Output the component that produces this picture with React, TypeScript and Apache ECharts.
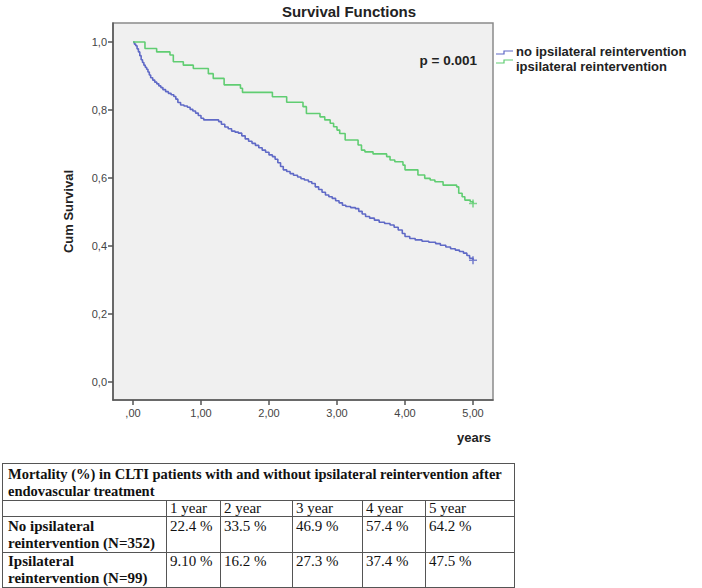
import React, { useEffect, useRef } from "react";
import * as echarts from "echarts";

// Kaplan–Meier step estimates (years, cumulative survival)
const noReintTimes = [
  0, 0.02, 0.04, 0.06, 0.08, 0.1, 0.12, 0.14, 0.16, 0.18, 0.2, 0.22, 0.24, 0.26, 0.29, 0.32, 0.35, 0.38,
  0.41, 0.44, 0.48, 0.52, 0.56, 0.6, 0.63, 0.66, 0.7, 0.75, 0.8, 0.84, 0.88, 0.92, 0.96, 1.0, 1.04, 1.26,
  1.3, 1.35, 1.4, 1.45, 1.5, 1.55, 1.6, 1.65, 1.7, 1.75, 1.8, 1.85, 1.9, 1.95, 2.0, 2.05, 2.09, 2.13,
  2.17, 2.21, 2.26, 2.31, 2.36, 2.42, 2.47, 2.52, 2.58, 2.63, 2.68, 2.73, 2.78, 2.83, 2.88, 2.93, 2.98,
  3.03, 3.08, 3.13, 3.2, 3.27, 3.32, 3.37, 3.42, 3.48, 3.55, 3.62, 3.7, 3.78, 3.84, 3.9, 3.96, 4.0, 4.07,
  4.15, 4.25, 4.35, 4.45, 4.52, 4.6, 4.67, 4.74, 4.8, 4.86, 4.91, 4.95, 5.0,
];
const noReintSurv = [
  1.0, 0.994, 0.989, 0.98, 0.971, 0.96, 0.948, 0.94, 0.932, 0.926, 0.92, 0.912, 0.903, 0.895, 0.888, 0.882,
  0.877, 0.871, 0.866, 0.86, 0.854, 0.849, 0.845, 0.84, 0.832, 0.822, 0.815, 0.812, 0.808, 0.802, 0.797,
  0.791, 0.784, 0.776, 0.771, 0.766, 0.758, 0.75, 0.745, 0.738, 0.735, 0.732, 0.724, 0.715, 0.708, 0.702,
  0.696, 0.689, 0.682, 0.676, 0.668, 0.663, 0.655, 0.645, 0.634, 0.624, 0.619, 0.613, 0.608, 0.603, 0.598,
  0.594, 0.589, 0.584, 0.574, 0.566, 0.558, 0.55, 0.545, 0.54, 0.533, 0.527, 0.52, 0.516, 0.513, 0.51,
  0.502, 0.494, 0.487, 0.482, 0.476, 0.47, 0.466, 0.462, 0.455, 0.447, 0.437, 0.428, 0.422, 0.418, 0.414,
  0.411, 0.407, 0.402, 0.397, 0.392, 0.388, 0.384, 0.379, 0.372, 0.364, 0.358,
];

const reintTimes = [
  0, 0.176, 0.348, 0.544, 0.593, 0.74, 0.887, 1.108, 1.18, 1.34, 1.58, 1.61, 2.05, 2.26, 2.5, 2.55, 2.75,
  2.82, 2.9, 2.95, 3.0, 3.04, 3.12, 3.31, 3.36, 3.41, 3.53, 3.73, 3.78, 3.85, 3.97, 4.0, 4.19, 4.29, 4.37,
  4.44, 4.56, 4.76, 4.79, 4.84, 4.88, 4.96, 5.0,
];
const reintSurv = [
  1.0, 0.981, 0.971, 0.962, 0.942, 0.932, 0.922, 0.907, 0.893, 0.874, 0.864, 0.852, 0.839, 0.823, 0.81,
  0.79, 0.78, 0.771, 0.761, 0.751, 0.741, 0.731, 0.712, 0.697, 0.682, 0.677, 0.671, 0.663, 0.653, 0.648,
  0.638, 0.624, 0.609, 0.599, 0.594, 0.589, 0.579, 0.574, 0.555, 0.545, 0.535, 0.53, 0.525,
];

const yearTicks = [0, 1, 2, 3, 4, 5];
const survivalTicks = [0, 0.2, 0.4, 0.6, 0.8, 1.0];

const seriesNames = ["no ipsilateral reintervention", "ipsilateral reintervention"];
const seriesColors = ["#5f69c6", "#60cd72"];

// Mortality table
const tableTitle = [
  "Mortality (%) in CLTI patients with and without ipsilateral reintervention after",
  "endovascular treatment",
];
const yearHeaders = ["1 year", "2 year", "3 year", "4 year", "5 year"];
const rowLabels = [
  ["No ipsilateral", "reintervention (N=352)"],
  ["Ipsilateral", "reintervention (N=99)"],
];
const noReintMortality = ["22.4 %", "33.5 %", "46.9 %", "57.4 %", "64.2 %"];
const reintMortality = ["9.10 %", "16.2 %", "27.3 %", "37.4 %", "47.5 %"];

const SANS = "'Liberation Sans', Arial, sans-serif";
const SERIF = "'Liberation Serif', 'Times New Roman', serif";

const censorPlus = "path://M4 0H6V4H10V6H6V10H4V6H0V4H4Z";

function pairs(t: number[], s: number[]) {
  return t.map((v, i) => [v, s[i]]);
}

function Chart() {
  const ref = useRef<HTMLDivElement>(null);
  useEffect(() => {
    if (!ref.current) return;
    const chart = echarts.init(ref.current, undefined, { renderer: "svg" });
    const curves = [pairs(noReintTimes, noReintSurv), pairs(reintTimes, reintSurv)];
    const lineSeries = curves.map((d, i) => ({
      type: "line",
      name: seriesNames[i],
      data: d,
      step: "end",
      showSymbol: false,
      lineStyle: { color: seriesColors[i], width: 1.6 },
      itemStyle: { color: seriesColors[i] },
      z: 3,
    }));
    const censorSeries = curves.map((d, i) => ({
      type: "scatter",
      data: [d[d.length - 1]],
      symbol: censorPlus,
      symbolSize: 8,
      itemStyle: { color: seriesColors[i] },
      z: 4,
    }));

    const legendGraphics: any[] = [];
    seriesNames.forEach((name, i) => {
      const yText = 51 + i * 15;
      const yLow = 54 + i * 9;
      legendGraphics.push({
        type: "polyline",
        shape: {
          points: [
            [496, yLow],
            [504, yLow],
            [504, yLow - 3],
            [513, yLow - 3],
          ],
        },
        style: { stroke: seriesColors[i], lineWidth: 1.2, fill: null },
      });
      legendGraphics.push({
        type: "text",
        x: 516,
        y: yText,
        style: {
          text: name,
          font: `bold 13px ${SANS}`,
          lineHeight: 14,
          fill: "#222",
          textVerticalAlign: "middle",
        },
      });
    });

    chart.setOption({
      animation: false,
      backgroundColor: "#ffffff",
      grid: {
        left: 113,
        top: 23,
        width: 380,
        height: 377,
        show: true,
        backgroundColor: "#f0f0f0",
        borderColor: "#8a8a8a",
        borderWidth: 1.5,
      },
      xAxis: {
        type: "value",
        min: -0.294,
        max: 5.294,
        axisLine: { show: true, onZero: false, lineStyle: { color: "#555", width: 1.5 } },
        axisTick: { show: true, customValues: yearTicks, length: 5, lineStyle: { color: "#555", width: 1.5 } },
        axisLabel: {
          customValues: yearTicks,
          margin: 7,
          fontFamily: SANS,
          fontSize: 11,
          color: "#444",
          formatter: (v: number) => (v === 0 ? ",00" : v.toFixed(2).replace(".", ",")),
        },
        splitLine: { show: false },
      },
      yAxis: {
        type: "value",
        min: -0.053,
        max: 1.056,
        name: "Cum Survival",
        nameLocation: "middle",
        nameGap: 38,
        nameTextStyle: { fontFamily: SANS, fontSize: 13, fontWeight: "bold", color: "#222" },
        axisLine: { show: true, onZero: false, lineStyle: { color: "#555", width: 1.5 } },
        axisTick: { show: true, customValues: survivalTicks, length: 5, lineStyle: { color: "#555", width: 1.5 } },
        axisLabel: {
          customValues: survivalTicks,
          margin: 6,
          fontFamily: SANS,
          fontSize: 11,
          color: "#444",
          formatter: (v: number) => v.toFixed(1).replace(".", ","),
        },
        splitLine: { show: false },
      },
      graphic: [
        {
          type: "text",
          x: 349,
          y: 11,
          style: {
            text: "Survival Functions",
            font: `bold 15px ${SANS}`,
            fill: "#222",
            textAlign: "center",
            textVerticalAlign: "middle",
          },
        },
        {
          type: "text",
          x: 477,
          y: 60,
          style: {
            text: "p = 0.001",
            font: `bold 13.5px ${SANS}`,
            fill: "#222",
            textAlign: "right",
            textVerticalAlign: "middle",
          },
        },
        {
          type: "text",
          x: 474,
          y: 437,
          style: {
            text: "years",
            font: `bold 13px ${SANS}`,
            fill: "#222",
            textAlign: "center",
            textVerticalAlign: "middle",
          },
        },
        ...legendGraphics,
      ],
      series: [...lineSeries, ...censorSeries],
    });
    return () => chart.dispose();
  }, []);
  return <div ref={ref} style={{ position: "absolute", left: 0, top: 0, width: 702, height: 455 }} />;
}

function Line({ x1, y1, x2, y2 }: { x1: number; y1: number; x2: number; y2: number }) {
  const horizontal = y1 === y2;
  return (
    <div
      style={{
        position: "absolute",
        left: x1,
        top: y1,
        width: horizontal ? x2 - x1 + 1 : 1,
        height: horizontal ? 1 : y2 - y1 + 1,
        background: "#555",
      }}
    />
  );
}

function Cell({ x, y, text, bold, size }: { x: number; y: number; text: string; bold?: boolean; size?: number }) {
  return (
    <div
      style={{
        position: "absolute",
        left: x,
        top: y - 9,
        height: 18,
        lineHeight: "18px",
        whiteSpace: "nowrap",
        fontFamily: SERIF,
        fontSize: size ?? 15,
        fontWeight: bold ? "bold" : "normal",
        color: "#111",
      }}
    >
      {text}
    </div>
  );
}

function MortalityTable() {
  const colX = [166, 220, 292, 362, 425];
  const left = 2;
  const right = 514;
  const top = 463;
  const bottom = 587;
  const rowY = [500, 516, 552];
  return (
    <>
      <Line x1={left} y1={top} x2={right} y2={top} />
      <Line x1={left} y1={bottom} x2={right} y2={bottom} />
      <Line x1={left} y1={top} x2={left} y2={bottom} />
      <Line x1={right} y1={top} x2={right} y2={bottom} />
      {rowY.map((y) => (
        <Line key={"h" + y} x1={left} y1={y} x2={right} y2={y} />
      ))}
      {colX.map((x) => (
        <Line key={"v" + x} x1={x} y1={rowY[0]} x2={x} y2={bottom} />
      ))}
      <Cell x={8} y={474} text={tableTitle[0]} bold size={14.5} />
      <Cell x={8} y={491} text={tableTitle[1]} bold size={14.5} />
      {yearHeaders.map((h, i) => (
        <Cell key={h} x={colX[i] + 4} y={508} text={h} />
      ))}
      <Cell x={8} y={526} text={rowLabels[0][0]} bold />
      <Cell x={8} y={543} text={rowLabels[0][1]} bold />
      {noReintMortality.map((v, i) => (
        <Cell key={"a" + i} x={colX[i] + 4} y={526} text={v} />
      ))}
      <Cell x={8} y={561} text={rowLabels[1][0]} bold />
      <Cell x={8} y={578} text={rowLabels[1][1]} bold />
      {reintMortality.map((v, i) => (
        <Cell key={"b" + i} x={colX[i] + 4} y={561} text={v} />
      ))}
    </>
  );
}

export default function App() {
  return (
    <div
      style={{
        position: "absolute",
        left: 0,
        top: 0,
        width: 702,
        height: 588,
        background: "#ffffff",
        overflow: "hidden",
      }}
    >
      <Chart />
      <MortalityTable />
    </div>
  );
}
